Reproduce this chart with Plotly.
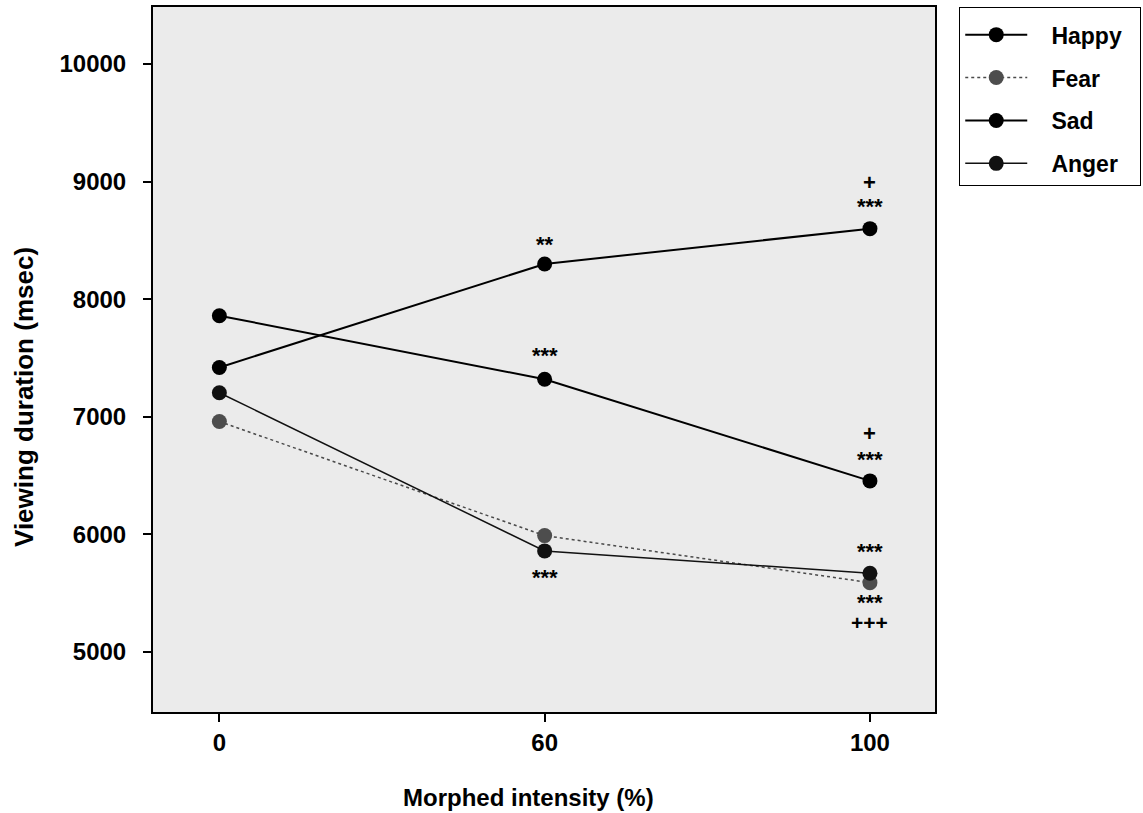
import plotly.graph_objects as go

categories = ["0", "60", "100"]
happy = [7420, 8300, 8600]
fear = [6960, 5990, 5590]
sad = [7860, 7320, 6455]
anger = [7205, 5860, 5670]

y_ticks = [5000, 6000, 7000, 8000, 9000, 10000]

# significance marks: (category, y value, text)
marks_cat = ["60", "60", "60", "100", "100", "100", "100", "100", "100", "100"]
marks_y = [8466, 7523, 5637, 8990, 8790, 6861, 6640, 5858, 5425, 5255]
marks_txt = ["**", "***", "***", "+", "***", "+", "***", "***", "***", "+++"]

FONT = "Liberation Sans, Arial, sans-serif"
NB_L = "\u00a0\u00a0\u00a0"
NB_R = "\u00a0\u00a0"

fig = go.Figure()

series = [
    ("Happy", happy, dict(color="black", width=2), "black"),
    ("Fear", fear, dict(color="#4a4a4a", width=1.5, dash="dot"), "#4d4d4d"),
    ("Sad", sad, dict(color="black", width=2), "black"),
    ("Anger", anger, dict(color="#111111", width=1.5), "#111111"),
]
for i, (name, vals, line, mcol) in enumerate(series):
    fig.add_trace(go.Scatter(
        x=categories, y=vals, name=NB_L + name + NB_R, mode="lines+markers",
        line=line, marker=dict(size=15, color=mcol, line=dict(width=0)),
        legendgroup=f"g{i}",
    ))

for c, yv, t in zip(marks_cat, marks_y, marks_txt):
    fig.add_annotation(x=categories.index(c), y=yv, text=f"<b>{t}</b>", showarrow=False,
                       font=dict(family=FONT, size=22 if t != "+++" else 21, color="black"),
                       xanchor="center", yanchor="middle")

# axis titles placed as annotations (paper coordinates)
fig.add_annotation(x=0.4808, y=-0.1206, xref="paper", yref="paper",
                   text="<b>Morphed intensity (%)</b>", showarrow=False,
                   font=dict(family=FONT, size=24, color="black"),
                   xanchor="center", yanchor="middle")
fig.add_annotation(x=-0.165, y=0.4468, xref="paper", yref="paper",
                   text="<b>Viewing duration (msec)</b>", showarrow=False, textangle=-90,
                   font=dict(family=FONT, size=26, color="black"),
                   xanchor="center", yanchor="middle")

fig.update_layout(
    width=1143, height=813,
    margin=dict(l=153, r=208, t=7, b=101, autoexpand=False),
    paper_bgcolor="white",
    plot_bgcolor="#ebebeb",
    font=dict(family=FONT, size=20, color="black"),
    showlegend=True,
    legend=dict(
        x=1.031, y=1.0, xanchor="left", yanchor="top",
        bordercolor="black", borderwidth=1, bgcolor="white",
        font=dict(family=FONT, size=23, color="black", weight="bold"),
        itemwidth=62, tracegroupgap=10,
        title=dict(text="\u00a0", font=dict(size=4)),
    ),
)
fig.update_xaxes(
    type="category", range=[-0.204, 2.2], automargin=False,
    showgrid=False, zeroline=False,
    showline=True, linecolor="black", linewidth=2, mirror=True,
    ticks="outside", ticklen=8, tickwidth=1.5, tickcolor="black",
    ticklabelstandoff=0,
    tickfont=dict(family=FONT, size=24, weight="bold"),
)
fig.update_yaxes(
    range=[4490, 10485], tickvals=y_ticks, tickformat="d", automargin=False,
    showgrid=False, zeroline=False,
    showline=True, linecolor="black", linewidth=2, mirror=True,
    ticks="outside", ticklen=8, tickwidth=1.5, tickcolor="black",
    ticklabelstandoff=12,
    tickfont=dict(family=FONT, size=24, weight="bold"),
)

fig.write_html("out.html", config={"displayModeBar": False},
               post_script="document.body.style.margin='0';document.body.style.overflow='hidden';")
